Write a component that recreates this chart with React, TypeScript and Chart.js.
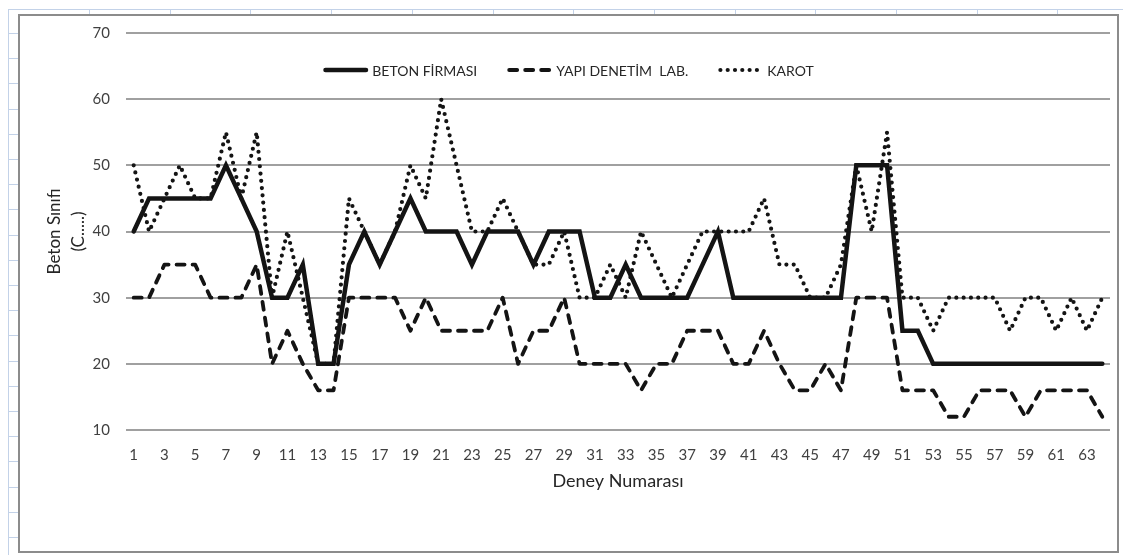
import React, { useEffect, useRef } from 'react';
import { Chart, registerables } from 'chart.js';

Chart.register(...registerables);

const categories: string[] = Array.from({ length: 64 }, (_, i) => String(i + 1));

const betonFirmasi: number[] = [
  40, 45, 45, 45, 45, 45, 50, 45, 40, 30,
  30, 35, 20, 20, 35, 40, 35, 40, 45, 40,
  40, 40, 35, 40, 40, 40, 35, 40, 40, 40,
  30, 30, 35, 30, 30, 30, 30, 35, 40, 30,
  30, 30, 30, 30, 30, 30, 30, 50, 50, 50,
  25, 25, 20, 20, 20, 20, 20, 20, 20, 20,
  20, 20, 20, 20,
];

const yapiDenetim: number[] = [
  30, 30, 35, 35, 35, 30, 30, 30, 35, 20,
  25, 20, 16, 16, 30, 30, 30, 30, 25, 30,
  25, 25, 25, 25, 30, 20, 25, 25, 30, 20,
  20, 20, 20, 16, 20, 20, 25, 25, 25, 20,
  20, 25, 20, 16, 16, 20, 16, 30, 30, 30,
  16, 16, 16, 12, 12, 16, 16, 16, 12, 16,
  16, 16, 16, 12,
];

const karot: number[] = [
  50, 40, 45, 50, 45, 45, 55, 45, 55, 30,
  40, 30, 20, 20, 45, 40, 35, 40, 50, 45,
  60, 50, 40, 40, 45, 40, 35, 35, 40, 30,
  30, 35, 30, 40, 35, 30, 35, 40, 40, 40,
  40, 45, 35, 35, 30, 30, 35, 50, 40, 55,
  30, 30, 25, 30, 30, 30, 30, 25, 30, 30,
  25, 30, 25, 30,
];

const seriesNames: string[] = ['BETON FİRMASI', 'YAPI DENETİM  LAB.', 'KAROT'];
const yTitleLines: string[] = ['Beton Sınıfı', '(C.....)'];
const xTitle = 'Deney Numarası';

const FONT = 'Lato, "Open Sans", sans-serif';

const legendPlugin = {
  id: 'excelLegend',
  afterDraw(chart: any) {
    const ctx = chart.ctx as CanvasRenderingContext2D;
    const dsList = chart.data.datasets;
    ctx.save();
    ctx.font = `14px ${FONT}`;
    const sampleW = 45;
    const textGap = 4;
    const itemGap = 30;
    const widths = dsList.map((ds: any) => ctx.measureText(ds.label).width);
    const total =
      widths.reduce((s: number, w: number) => s + sampleW + textGap + w, 0) +
      itemGap * (dsList.length - 1);
    let x = chart.width / 2 - total / 2;
    const y = chart.chartArea.top + 37;
    dsList.forEach((ds: any, i: number) => {
      ctx.beginPath();
      ctx.setLineDash(ds.borderDash || []);
      ctx.lineCap = ds.borderCapStyle || 'butt';
      ctx.lineWidth = ds.borderWidth;
      ctx.strokeStyle = ds.borderColor;
      const inset = ds.borderCapStyle === 'round' ? ds.borderWidth / 2 : 0;
      ctx.moveTo(x + inset, y);
      ctx.lineTo(x + sampleW - inset, y);
      ctx.stroke();
      ctx.setLineDash([]);
      ctx.fillStyle = '#262626';
      ctx.textBaseline = 'middle';
      ctx.textAlign = 'left';
      ctx.fillText(ds.label, x + sampleW + textGap, y + 1);
      x += sampleW + textGap + widths[i] + itemGap;
    });
    ctx.restore();
  },
};

function SheetBackdrop() {
  const blue = '#c3d2e8';
  const cols: number[] = [];
  for (let k = 0; k < 13; k++) cols.push(89 + k * 80.7);
  const rows: number[] = [];
  for (let k = 0; k <= 20; k++) rows.push(33 + k * 25.2);
  return (
    <>
      <div style={{ position: 'absolute', left: 8, top: 9, width: 1115, height: 1, background: blue }} />
      <div style={{ position: 'absolute', left: 8, top: 9, width: 1, height: 546, background: blue }} />
      {cols.map((x, i) => (
        <div key={'c' + i} style={{ position: 'absolute', left: Math.round(x), top: 9, width: 1, height: 6, background: blue }} />
      ))}
      {rows.map((y, i) => (
        <div key={'r' + i} style={{ position: 'absolute', left: 8, top: Math.round(y), width: 11, height: 1, background: blue }} />
      ))}
    </>
  );
}

export default function App() {
  const canvasRef = useRef<HTMLCanvasElement | null>(null);

  useEffect(() => {
    if (!canvasRef.current) return;
    const chart = new Chart(canvasRef.current, {
      type: 'line',
      data: {
        labels: categories,
        datasets: [
          {
            label: seriesNames[0],
            data: betonFirmasi,
            borderColor: '#141414',
            backgroundColor: '#141414',
            borderWidth: 4.5,
            borderCapStyle: 'round',
            borderJoinStyle: 'miter',
            pointRadius: 0,
            tension: 0,
          },
          {
            label: seriesNames[1],
            data: yapiDenetim,
            borderColor: '#141414',
            backgroundColor: '#141414',
            borderWidth: 3.8,
            borderDash: [8, 8],
            borderCapStyle: 'round',
            borderJoinStyle: 'round',
            pointRadius: 0,
            tension: 0,
          },
          {
            label: seriesNames[2],
            data: karot,
            borderColor: '#141414',
            backgroundColor: '#141414',
            borderWidth: 4.2,
            borderDash: [0, 7.3],
            borderCapStyle: 'round',
            borderJoinStyle: 'round',
            pointRadius: 0,
            tension: 0,
          },
        ],
      },
      options: {
        animation: false,
        responsive: true,
        maintainAspectRatio: false,
        layout: { padding: { top: 17, right: 7, bottom: 0, left: 0 } },
        plugins: {
          legend: { display: false },
          tooltip: { enabled: false },
        },
        scales: {
          x: {
            type: 'category',
            offset: true,
            grid: { display: false, drawTicks: false },
            border: { display: false },
            ticks: {
              autoSkip: false,
              maxRotation: 0,
              minRotation: 0,
              padding: 16,
              color: '#404040',
              font: { family: FONT, size: 15 },
              callback: (_v: any, i: number) => (i % 2 === 0 ? categories[i] : ''),
            },
            title: {
              display: true,
              text: xTitle,
              color: '#262626',
              font: { family: FONT, size: 18 },
              padding: { top: 4, bottom: 59 },
            },
            afterFit: (scale: any) => {
              scale.height = 121;
              scale.paddingLeft = 0;
              scale.paddingRight = 0;
            },
          },
          y: {
            min: 10,
            max: 70,
            grid: { color: '#a0a0a0', lineWidth: 2, drawTicks: false },
            border: { display: false },
            ticks: {
              stepSize: 10,
              padding: 16,
              color: '#404040',
              font: { family: FONT, size: 15 },
            },
            title: {
              display: true,
              text: yTitleLines,
              color: '#262626',
              font: { family: FONT, size: 17, lineHeight: 1.4 },
              padding: { top: 23, bottom: 0 },
            },
            afterFit: (scale: any) => {
              scale.width = 106;
              scale.paddingTop = 0;
              scale.paddingBottom = 0;
            },
          },
        },
      },
      plugins: [legendPlugin],
    } as any);
    return () => chart.destroy();
  }, []);

  return (
    <div style={{ position: 'absolute', left: 0, top: 0, width: 1123, height: 555, background: '#ffffff', overflow: 'hidden' }}>
      <SheetBackdrop />
      <div
        style={{
          position: 'absolute',
          left: 18,
          top: 14,
          width: 1101,
          height: 539,
          boxSizing: 'border-box',
          border: '2px solid #8c8c8c',
          background: '#ffffff',
        }}
      >
        <div style={{ position: 'relative', width: 1097, height: 535 }}>
          <canvas ref={canvasRef} />
        </div>
      </div>
    </div>
  );
}
